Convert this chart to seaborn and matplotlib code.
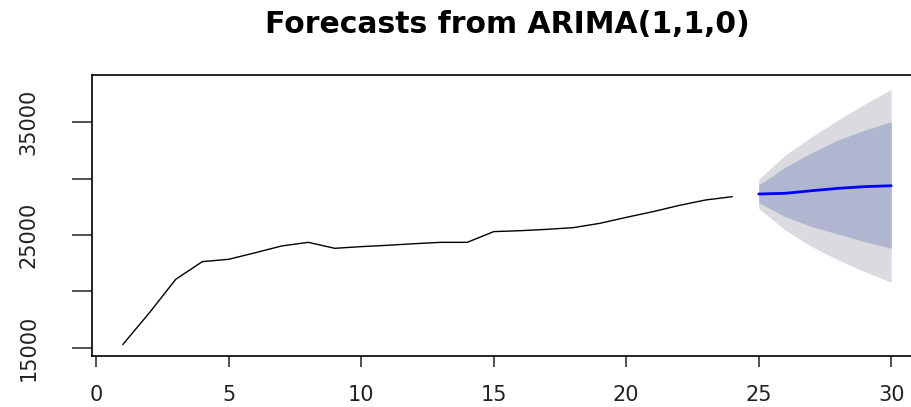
import numpy as np
import pandas as pd
import matplotlib
matplotlib.use("Agg")
import matplotlib.pyplot as plt
import seaborn as sns

# observed series (t = 1..24)
obs_time = list(range(1, 25))
obs_value = [15300, 18100, 21080, 22640, 22850, 23430, 24030, 24350,
             23820, 23970, 24090, 24230, 24350, 24350, 25300, 25380,
             25500, 25650, 26030, 26560, 27060, 27620, 28100, 28390]

# forecast (t = 25..30)
fc_time = [25, 26, 27, 28, 29, 30]
fc_mean = [28630, 28690, 28920, 29130, 29280, 29360]
lo80 = [27860, 26620, 25740, 25090, 24410, 23820]
hi80 = [29430, 30990, 32290, 33410, 34290, 35030]
lo95 = [27360, 25440, 23970, 22790, 21750, 20810]
hi95 = [29930, 32080, 33700, 35180, 36590, 37890]

x_ticks = [0, 5, 10, 15, 20, 25, 30]
y_ticks = [15000, 20000, 25000, 30000, 35000]
y_labels = ["15000", "", "25000", "", "35000"]

sns.set_theme(style="ticks")
plt.rcParams["font.family"] = ["DejaVu Sans"]

obs_df = pd.DataFrame({"time": obs_time, "value": obs_value})
fc_df = pd.DataFrame({"time": fc_time, "value": fc_mean})

fig = plt.figure(figsize=(9.12, 4.07), dpi=100)
ax = fig.add_axes([0.1009, 0.1253, 0.910, 0.6904])

# prediction intervals, 95% then 80%
ax.fill_between(fc_time, lo95, hi95, color="#dadae0", lw=0)
ax.fill_between(fc_time, lo80, hi80, color="#b0b5d0", lw=0)
sns.lineplot(data=obs_df, x="time", y="value", ax=ax, color="black", lw=1.0)
sns.lineplot(data=fc_df, x="time", y="value", ax=ax, color="#0000ff", lw=2.0)

ax.set_xlim(-0.16, 31.16)
ax.set_ylim(14290, 39160)
ax.set_xticks(x_ticks)
ax.set_xticklabels([str(t) for t in x_ticks])
ax.set_yticks(y_ticks)
ax.set_yticklabels(y_labels, rotation=90, va="center")
ax.set_xlabel("")
ax.set_ylabel("")
for s in ax.spines.values():
    s.set_color("black")
    s.set_linewidth(1.2)
ax.tick_params(axis="both", width=1.2, color="#333333",
               labelsize=15, labelcolor="#222222")
ax.tick_params(axis="x", length=8, pad=13)
ax.tick_params(axis="y", length=14.5, pad=24)

fig.text(0.556, 1 - 33 / 407, "Forecasts from ARIMA(1,1,0)", ha="center",
         va="baseline", fontsize=21.5, fontweight="bold", color="black")

fig.savefig("out.png", dpi=100)
